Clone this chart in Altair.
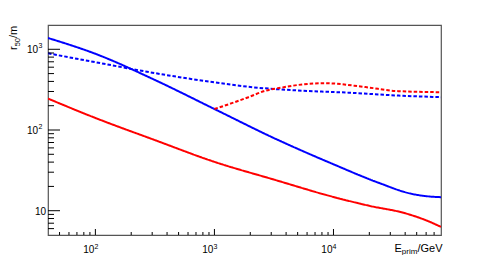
import altair as alt
import pandas as pd

# ---- data ----
E_red_solid = [40, 100, 316, 1000, 3162, 10000, 20000, 40000, 60000, 80000]
r_red_solid = [245, 141, 75, 40.3, 24.3, 14.8, 11.5, 9.3, 7.6, 6.3]

E_blue_solid = [40, 100, 316, 1000, 3162, 10000, 23900, 45200, 58900, 80000]
r_blue_solid = [1380, 880, 417, 182, 79.4, 37.6, 22.2, 16.2, 15.2, 14.7]

E_blue_dash = [40, 100, 316, 1000, 1930, 5000, 13400, 35200, 80000]
r_blue_dash = [891, 692, 507, 389, 343, 309, 290, 267, 255]

E_red_dash = [1000, 1400, 1930, 2670, 3700, 5080, 8500, 18600, 35000, 80000]
r_red_dash = [182, 215, 255, 306, 336, 362, 380, 340, 303, 294]

series_names = ["red_solid", "blue_solid", "blue_dash", "red_dash"]
series_colors = ["#ff0000", "#0000ff", "#0000ff", "#ff0000"]

major_y = [10, 100, 1000]
minor_y = [6, 7, 8, 9, 20, 30, 40, 50, 60, 70, 80, 90,
           200, 300, 400, 500, 600, 700, 800, 900]
major_x = [100, 1000, 10000]
minor_x = [50, 60, 70, 80, 90,
           200, 300, 400, 500, 600, 700, 800, 900,
           2000, 3000, 4000, 5000, 6000, 7000, 8000, 9000,
           20000, 30000, 40000, 50000, 60000, 70000]
y_plain_labels = [10]
y_exp_labels = [100, 1000]
y_exp_text = ["2", "3"]
x_exp_text = ["2", "3", "4"]

W, H = 393, 210
FONT = "Liberation Sans"

xs = alt.Scale(type="log", domain=[40, 80000], nice=False)
ys = alt.Scale(type="log", domain=[5, 2000], nice=False)

rows = []
for name, E, r, dash in [
    ("red_solid", E_red_solid, r_red_solid, "solid"),
    ("blue_solid", E_blue_solid, r_blue_solid, "solid"),
    ("blue_dash", E_blue_dash, r_blue_dash, "dashed"),
    ("red_dash", E_red_dash, r_red_dash, "dashed"),
]:
    for e, v in zip(E, r):
        rows.append({"s": name, "E": e, "r": v, "dash": dash})
df = pd.DataFrame(rows)

lines = alt.Chart(df).mark_line(interpolate="monotone", strokeWidth=2, clip=True).encode(
    x=alt.X("E:Q", scale=xs, axis=None),
    y=alt.Y("r:Q", scale=ys, axis=None),
    color=alt.Color("s:N", scale=alt.Scale(domain=series_names, range=series_colors), legend=None),
    strokeDash=alt.StrokeDash("dash:N", scale=alt.Scale(domain=["solid", "dashed"], range=[[1, 0], [3.5, 2]]), legend=None),
    detail="s:N",
)

ymaj = alt.Chart(pd.DataFrame({"v": major_y})).mark_rule(color="black", strokeWidth=1).encode(
    y=alt.Y("v:Q", scale=ys, axis=None), x=alt.value(0), x2=alt.value(12))
ymin = alt.Chart(pd.DataFrame({"v": minor_y})).mark_rule(color="black", strokeWidth=1).encode(
    y=alt.Y("v:Q", scale=ys, axis=None), x=alt.value(0), x2=alt.value(6))
xmaj = alt.Chart(pd.DataFrame({"v": major_x})).mark_rule(color="black", strokeWidth=1).encode(
    x=alt.X("v:Q", scale=xs, axis=None), y=alt.value(H), y2=alt.value(H - 6))
xmin = alt.Chart(pd.DataFrame({"v": minor_x})).mark_rule(color="black", strokeWidth=1).encode(
    x=alt.X("v:Q", scale=xs, axis=None), y=alt.value(H), y2=alt.value(H - 3))

# y tick labels
ylab_plain = alt.Chart(pd.DataFrame({"v": y_plain_labels, "t": ["10"]})).mark_text(
    align="right", baseline="middle", font=FONT, fontSize=10, dy=1).encode(
    y=alt.Y("v:Q", scale=ys, axis=None), x=alt.value(-2), text="t:N")
ylab_base = alt.Chart(pd.DataFrame({"v": y_exp_labels, "t": ["10", "10"]})).mark_text(
    align="right", baseline="middle", font=FONT, fontSize=10, dy=1).encode(
    y=alt.Y("v:Q", scale=ys, axis=None), x=alt.value(-10), text="t:N")
ylab_sup = alt.Chart(pd.DataFrame({"v": y_exp_labels, "t": y_exp_text})).mark_text(
    align="left", baseline="middle", font=FONT, fontSize=7, dy=-3).encode(
    y=alt.Y("v:Q", scale=ys, axis=None), x=alt.value(-9.5), text="t:N")

# x tick labels
xlab_base = alt.Chart(pd.DataFrame({"v": major_x, "t": ["10"] * 3})).mark_text(
    align="right", baseline="alphabetic", font=FONT, fontSize=10, dx=-1).encode(
    x=alt.X("v:Q", scale=xs, axis=None), y=alt.value(H + 18), text="t:N")
xlab_sup = alt.Chart(pd.DataFrame({"v": major_x, "t": x_exp_text})).mark_text(
    align="left", baseline="alphabetic", font=FONT, fontSize=7, dx=-1).encode(
    x=alt.X("v:Q", scale=xs, axis=None), y=alt.value(H + 14), text="t:N")

# axis titles
t_E = alt.Chart(pd.DataFrame({"t": ["E"]})).mark_text(
    align="right", baseline="alphabetic", font=FONT, fontSize=11).encode(
    x=alt.value(353.8), y=alt.value(H + 17), text="t:N")
t_prim = alt.Chart(pd.DataFrame({"t": ["prim"]})).mark_text(
    align="right", baseline="alphabetic", font=FONT, fontSize=8).encode(
    x=alt.value(369.4), y=alt.value(H + 19), text="t:N")
t_GeV = alt.Chart(pd.DataFrame({"t": ["/GeV"]})).mark_text(
    align="right", baseline="alphabetic", font=FONT, fontSize=11).encode(
    x=alt.value(394.5), y=alt.value(H + 17), text="t:N")

t_r = alt.Chart(pd.DataFrame({"t": ["r"]})).mark_text(
    align="left", baseline="alphabetic", font=FONT, fontSize=11, angle=270).encode(
    x=alt.value(-31), y=alt.value(25), text="t:N")
t_50 = alt.Chart(pd.DataFrame({"t": ["50"]})).mark_text(
    align="left", baseline="alphabetic", font=FONT, fontSize=7.5, angle=270).encode(
    x=alt.value(-28), y=alt.value(21.3), text="t:N")
t_m = alt.Chart(pd.DataFrame({"t": ["/m"]})).mark_text(
    align="left", baseline="alphabetic", font=FONT, fontSize=11, angle=270).encode(
    x=alt.value(-31), y=alt.value(13.0), text="t:N")

chart = alt.layer(
    lines, ymaj, ymin, xmaj, xmin,
    ylab_plain, ylab_base, ylab_sup, xlab_base, xlab_sup,
    t_E, t_prim, t_GeV, t_r, t_50, t_m,
).properties(
    width=W, height=H,
    autosize=alt.AutoSizeParams(type="none"),
    padding={"left": 40, "top": 17, "right": 42, "bottom": 20},
).configure_view(stroke="#555555", strokeWidth=1.2)

chart.save("out.html", embed_options={"renderer": "svg", "actions": False})
